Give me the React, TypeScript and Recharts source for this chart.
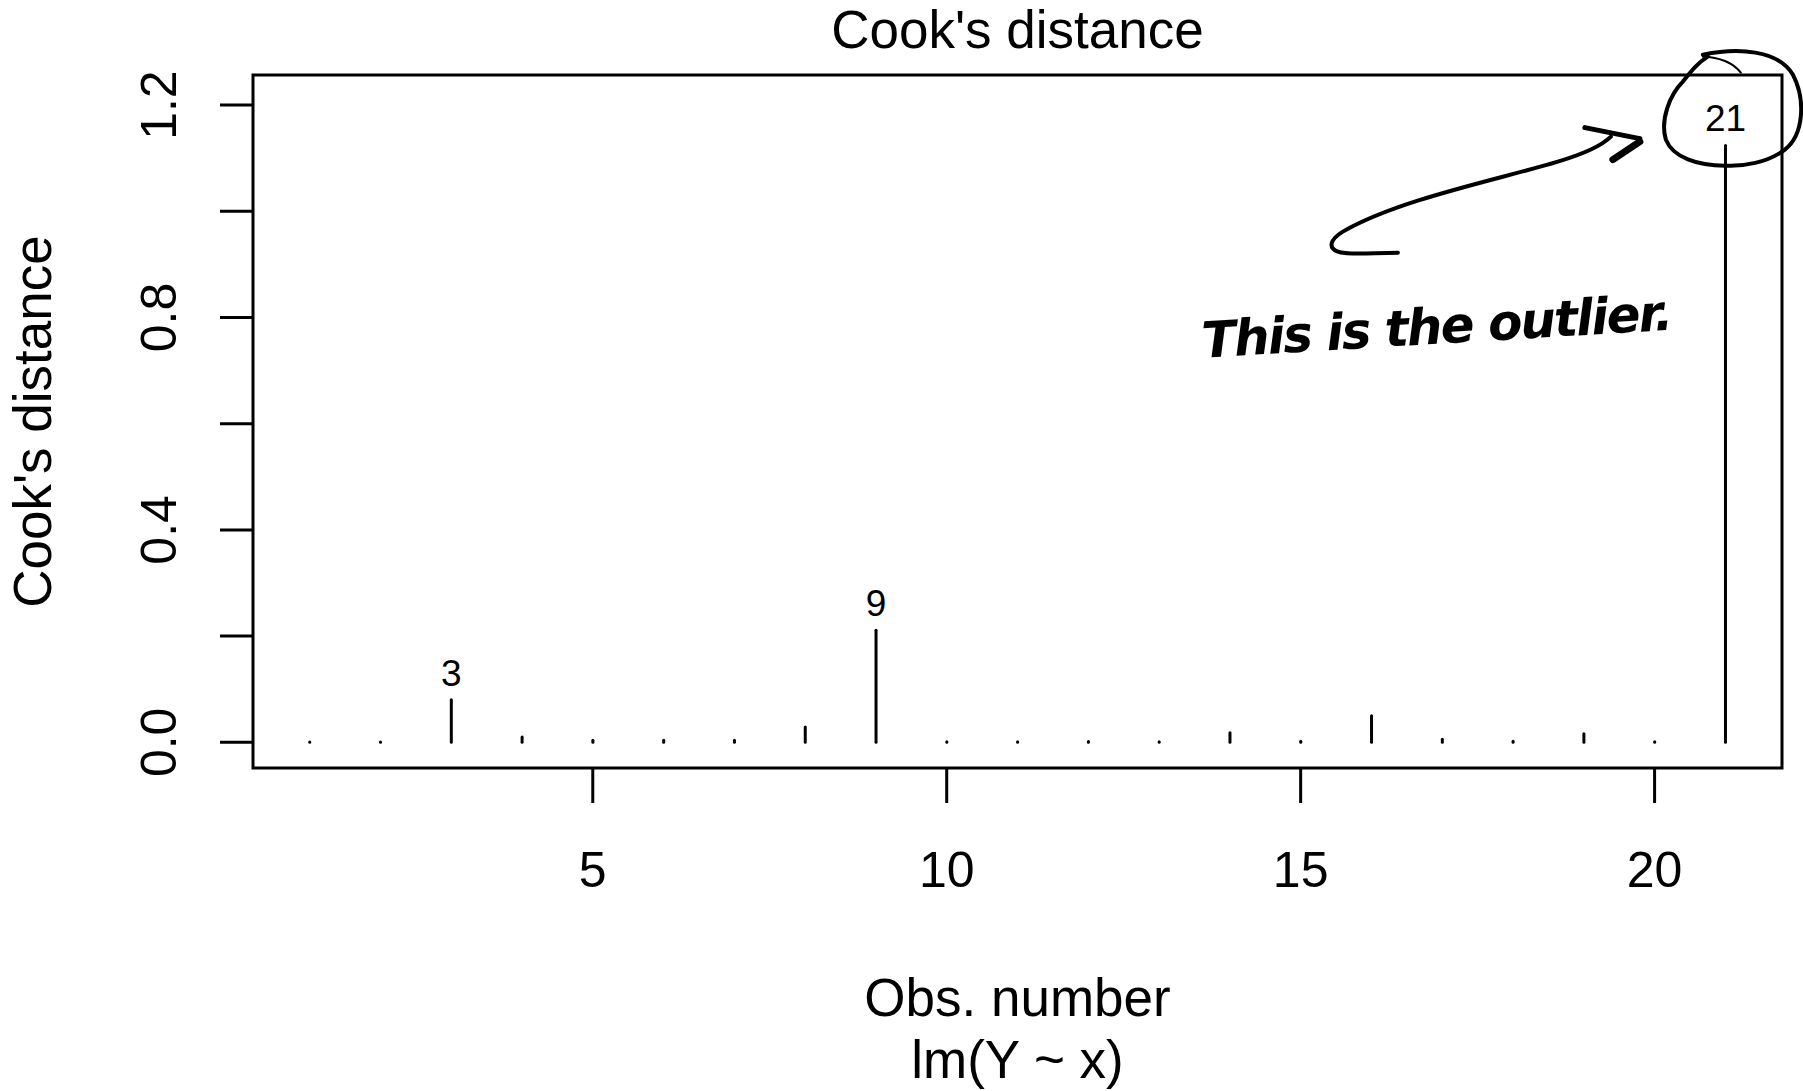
import {
  ComposedChart,
  Bar,
  XAxis,
  YAxis,
  LabelList,
  ReferenceArea,
  ReferenceDot,
  Customized,
} from "recharts";

// Cook's distance per observation, lm(Y ~ x)
const obsNumbers = [1, 2, 3, 4, 5, 6, 7, 8, 9, 10, 11, 12, 13, 14, 15, 16, 17, 18, 19, 20, 21];
const cooksDistance = [
  0.0005, 0.0005, 0.08, 0.01, 0.004, 0.004, 0.004, 0.029, 0.211, 0.001, 0.001,
  0.0015, 0.001, 0.018, 0.002, 0.05, 0.006, 0.002, 0.016, 0.001, 1.124,
];
const labelledObs = [3, 9, 21];
const outlierObs = 21;

const xTicks = [5, 10, 15, 20];
const yTicks = [0, 0.2, 0.4, 0.6, 0.8, 1.0, 1.2];
const yTickLabels = [0, 0.4, 0.8, 1.2];

const data = obsNumbers.map((obs, i) => ({ obs, cook: cooksDistance[i] }));

// R-style limits: ylim = c(0, max * 1.075), both axes padded by 4%
const yMax = Math.max(...cooksDistance) * 1.075;
const yDomain = [-0.04 * yMax, yMax * 1.04];
const xPad = 0.04 * (obsNumbers[obsNumbers.length - 1] - obsNumbers[0]);
const xDomain = [obsNumbers[0] - xPad, obsNumbers[obsNumbers.length - 1] + xPad];

const W = 1803;
const H = 1091;
const FONT = "'Liberation Sans', Arial, Helvetica, sans-serif";

const Stick = (props: any) => {
  const { x, y, width, height } = props;
  const cx = x + width / 2;
  return (
    <line
      x1={cx}
      x2={cx}
      y1={y}
      y2={y + height}
      stroke="#000"
      strokeWidth={3}
      strokeLinecap="round"
    />
  );
};

const PointLabel = (props: any) => {
  const { x, y, width, value } = props;
  if (!labelledObs.includes(value)) return null;
  return (
    <text
      x={x + width / 2}
      y={y - 14}
      textAnchor="middle"
      fontSize={37}
      fontFamily={FONT}
      fill="#000"
    >
      {value}
    </text>
  );
};

const XTick = (props: any) => {
  const { x, y, payload } = props;
  return (
    <text x={x} y={y + 82} textAnchor="middle" fontSize={50} fontFamily={FONT} fill="#000">
      {payload.value}
    </text>
  );
};

const YTick = (props: any) => {
  const { x, y, payload } = props;
  if (!yTickLabels.includes(payload.value)) return null;
  const bx = x - 42;
  return (
    <text
      x={bx}
      y={y}
      transform={`rotate(-90, ${bx}, ${y})`}
      textAnchor="middle"
      fontSize={50}
      fontFamily={FONT}
      fill="#000"
    >
      {payload.value.toFixed(1)}
    </text>
  );
};

const Titles = () => (
  <g fontFamily={FONT} fill="#000" fontSize={53}>
    <text x={1017.5} y={48} textAnchor="middle">
      Cook's distance
    </text>
    <text x={51} y={421.5} transform="rotate(-90, 51, 421.5)" textAnchor="middle">
      Cook's distance
    </text>
    <text x={1017.5} y={1016} textAnchor="middle">
      Obs. number
    </text>
    <text x={1017.5} y={1078} textAnchor="middle">
      lm(Y ~ x)
    </text>
  </g>
);

// hand-drawn note, positioned relative to the outlier's point
const OutlierNote = (props: any) => {
  const { cx, cy } = props;
  if (cx == null || cy == null) return null;
  return (
    <g transform={`translate(${cx - 1727.5}, ${cy - 145.8})`} fill="none" stroke="#000" strokeLinecap="round">
      <path
        d="M1705,55 C1740,48 1780,50 1795,75 C1808,100 1806,135 1787,150 C1770,163 1745,167 1727,166 C1700,166 1675,158 1668,140 C1662,120 1672,95 1685,82 C1693,72 1700,63 1710,57"
        strokeWidth={4}
      />
      <path d="M1705,57 C1722,57 1736,64 1743,73" strokeWidth={2} />
      <path
        d="M1400,253 C1375,253 1350,256 1340,252 C1330,248 1332,240 1345,232 C1400,200 1500,180 1560,162 C1590,153 1605,145 1613,137"
        strokeWidth={4}
      />
      <path d="M1587,128 L1642,139" strokeWidth={5} />
      <path d="M1642,142 L1615,160" strokeWidth={7} />
      <text
        x={1205}
        y={358}
        transform="rotate(-3.4, 1205, 358)"
        fontSize={50}
        fontStyle="italic"
        fontWeight="bold"
        fontFamily="'DejaVu Sans', sans-serif"
        textLength={472}
        lengthAdjust="spacing"
        fill="#000"
        stroke="none"
      >
        This is the outlier.
      </text>
    </g>
  );
};

export default function App() {
  return (
    <div style={{ position: "absolute", left: 0, top: 0, width: W, height: H, background: "#fff" }}>
      <ComposedChart
        width={W}
        height={H}
        data={data}
        margin={{ top: 75, right: 21, left: 53, bottom: 73 }}
      >
        <XAxis
          dataKey="obs"
          type="number"
          domain={xDomain}
          ticks={xTicks}
          allowDataOverflow
          axisLine={false}
          tickSize={35}
          tickLine={{ stroke: "#000", strokeWidth: 3 }}
          tick={<XTick />}
          height={250}
        />
        <YAxis
          type="number"
          domain={yDomain}
          ticks={yTicks}
          allowDataOverflow
          axisLine={false}
          tickSize={33}
          tickLine={{ stroke: "#000", strokeWidth: 3 }}
          tick={<YTick />}
          width={200}
        />
        <ReferenceArea
          x1={xDomain[0]}
          x2={xDomain[1]}
          y1={yDomain[0]}
          y2={yDomain[1]}
          fill="none"
          fillOpacity={0}
          stroke="#000"
          strokeWidth={3}
        />
        <Bar dataKey="cook" barSize={3} shape={<Stick />} isAnimationActive={false}>
          <LabelList dataKey="obs" content={<PointLabel />} />
        </Bar>
        <ReferenceDot
          x={outlierObs}
          y={cooksDistance[obsNumbers.indexOf(outlierObs)]}
          r={0}
          shape={(p: any) => <OutlierNote {...p} />}
        />
        <Customized component={Titles} />
      </ComposedChart>
    </div>
  );
}
